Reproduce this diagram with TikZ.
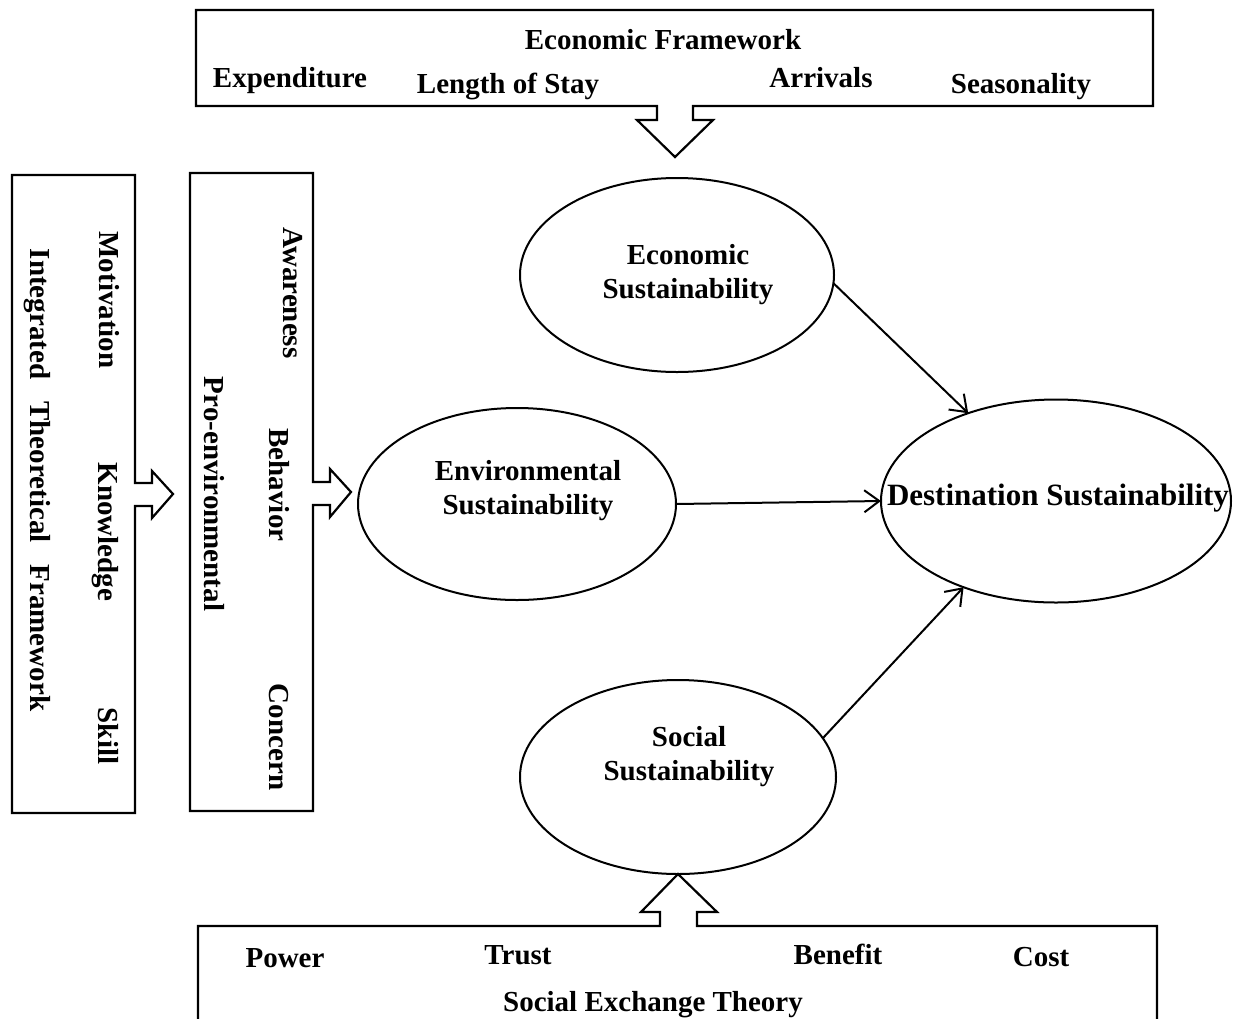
\documentclass[tikz,border=0pt]{standalone}
\usepackage{fontspec}
\setmainfont{Liberation Serif}
\usetikzlibrary{arrows.meta,shapes.geometric}
\begin{document}
\begin{tikzpicture}[x=1pt,y=-1pt,
  lbl/.style={font=\fontsize{29}{34}\selectfont\bfseries, inner sep=0pt, anchor=base},
  vlbl/.style={lbl, rotate=-90},
  frame/.style={draw, line width=2.2pt, line join=miter},
  oval/.style={draw, ellipse, line width=2pt, inner sep=0pt, outer sep=0pt},
  link/.style={line width=2pt, -{Straight Barb[length=15pt,width=22pt,line width=2pt]}}
]
\useasboundingbox (0,0) rectangle (1247,1018);
\clip (0,0) rectangle (1247,1018);

% Economic framework box with its downward block arrow
\path[frame] (657,106) -- (196,106) -- (196,10) -- (1153,10) -- (1153,106)
  -- (693,106) -- (693,120) -- (713,120) -- (675,157) -- (637,120) -- (657,120) -- cycle;
\node[lbl] (ef)   at (663,49) {Economic Framework};
\node[lbl] (exp)  at (290,87) {Expenditure};
\node[lbl] (los)  at (508,93) {Length of Stay};
\node[lbl] (arr)  at (821,87) {Arrivals};
\node[lbl] (seas) at (1021,93) {Seasonality};

% Social exchange theory box with its upward block arrow
\path[frame] (198,1040) -- (198,926) -- (660,926) -- (660,912) -- (641,912) -- (678,874)
  -- (717,912) -- (697,912) -- (697,926) -- (1157,926) -- (1157,1040);
\node[lbl] (pow)  at (285,967) {Power};
\node[lbl] (tru)  at (518,964) {Trust};
\node[lbl] (ben)  at (838,964) {Benefit};
\node[lbl] (cost) at (1041,966) {Cost};
\node[lbl] (set)  at (653,1011) {Social Exchange Theory};

% Integrated theoretical framework box
\path[frame] (135,483) -- (135,175) -- (12,175) -- (12,813) -- (135,813) -- (135,506)
  -- (152,506) -- (152,518) -- (173,494) -- (152,471) -- (152,483) -- cycle;
\node[vlbl] (itf) at (30,480) {Integrated\hspace{22pt}Theoretical\hspace{22pt}Framework};
\node[vlbl] (mot) at (99,300) {Motivation};
\node[vlbl] (kno) at (98,532) {Knowledge};
\node[vlbl] (ski) at (98,736) {Skill};

% Pro-environmental box
\path[frame] (313,482) -- (313,173) -- (190,173) -- (190,811) -- (313,811) -- (313,505)
  -- (330,505) -- (330,517) -- (351,492) -- (330,469) -- (330,482) -- cycle;
\node[vlbl] (pro) at (204,494) {Pro-environmental};
\node[vlbl] (awa) at (283,293) {Awareness};
\node[vlbl] (beh) at (269,485) {Behavior};
\node[vlbl] (con) at (269,737) {Concern};

% Sustainability constructs
\node[oval, minimum width=314pt, minimum height=194pt] (econ) at (677,275) {};
\node[oval, minimum width=318pt, minimum height=192pt] (env) at (517,504) {};
\node[oval, minimum width=316pt, minimum height=194pt] (soc) at (678,777) {};
\node[oval, minimum width=350pt, minimum height=203pt] (dest) at (1056,501) {};

\node[lbl, align=center] (econl) at (688,298) {Economic\\Sustainability};
\node[lbl, align=center] (envl) at (528,514) {Environmental\\Sustainability};
\node[lbl, align=center] (socl) at (689,780) {Social\\Sustainability};
\node[lbl, font=\fontsize{31}{34}\selectfont\bfseries] (destl) at (1058,505) {Destination Sustainability};

% Paths into destination sustainability
\draw[link] (econ.-3) -- (dest.135.6);
\draw[link] (env.east) -- (dest.west);
\draw[link] (soc.15) -- (dest.223);
\end{tikzpicture}
\end{document}
